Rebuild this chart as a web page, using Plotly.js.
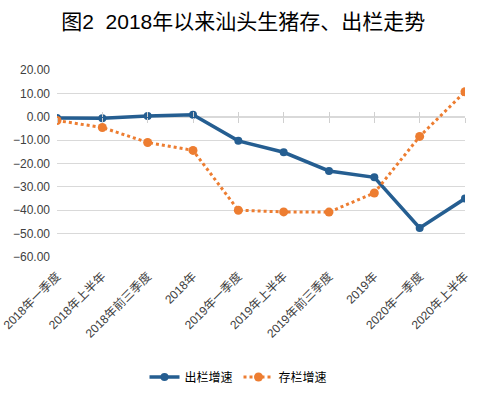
<!DOCTYPE html>
<html>
<head>
<meta charset="utf-8">
<script src="https://cdn.plot.ly/plotly-3.0.1.min.js"></script>
<style>html,body{margin:0;padding:0;background:#fff;}#chart{width:477px;height:395px;}</style>
</head>
<body>
<div id="chart"></div>
<script>
const categories = ["2018年一季度","2018年上半年","2018年前三季度","2018年","2019年一季度","2019年上半年","2019年前三季度","2019年","2020年一季度","2020年上半年"];
const chulanGrowth = [-0.5, -0.6, 0.3, 0.9, -10.3, -15.2, -23.2, -25.9, -47.6, -35.0];
const cunlanGrowth = [-1.6, -4.6, -11.0, -14.4, -40.0, -40.7, -40.8, -32.6, -8.4, 10.7];
const seriesNames = ["出栏增速", "存栏增速"];
const yTicks = [20, 10, 0, -10, -20, -30, -40, -50, -60];

const FONT = 'Liberation Sans, "Noto Sans CJK SC", sans-serif';
const idx = categories.map((c, i) => i);
const blanks = categories.map(() => null);

const traces = [
  {
    x: idx, y: chulanGrowth, name: seriesNames[0], type: 'scatter', mode: 'lines+markers',
    line: {color: '#255e91', width: 3.5},
    marker: {color: '#255e91', size: 8, symbol: 'circle'}
  },
  {
    x: idx, y: cunlanGrowth, name: seriesNames[1], type: 'scatter', mode: 'lines+markers',
    line: {color: '#ed7d31', width: 3, dash: 'dot'},
    marker: {color: '#ed7d31', size: 9, symbol: 'circle'}
  },
  // helper traces (no visible points) so the tick-mark axes at the zero line are drawn
  {x: idx, y: blanks, xaxis: 'x2', type: 'scatter', mode: 'markers', showlegend: false, hoverinfo: 'skip'},
  {x: idx, y: blanks, xaxis: 'x3', type: 'scatter', mode: 'markers', showlegend: false, hoverinfo: 'skip'}
];

const tickAxisCommon = {
  overlaying: 'x', anchor: 'free', position: 0.75, type: 'linear',
  range: [0, categories.length - 1], tickvals: idx, showticklabels: false,
  showgrid: false, zeroline: false, ticklen: 5, tickwidth: 1, tickcolor: '#d0d0d0',
  showline: false
};

const layout = {
  width: 477, height: 395,
  margin: {l: 57, r: 12, t: 70, b: 138},
  paper_bgcolor: '#fff', plot_bgcolor: '#fff',
  font: {family: FONT, color: '#404040', size: 12},
  title: {
    text: '图2  2018年以来汕头生猪存、出栏走势',
    font: {family: FONT, size: 21, color: '#000'},
    xref: 'container', x: 0.51, xanchor: 'center',
    yref: 'container', y: 1 - 22/395, yanchor: 'middle'
  },
  xaxis: {
    type: 'linear', range: [0, categories.length - 1],
    tickvals: idx, ticktext: categories, tickangle: -45,
    showgrid: false, zeroline: false, showline: false, ticks: '',
    tickfont: {family: FONT, size: 12, color: '#404040'},
    ticklabelstandoff: 9, ticklabeloverflow: 'allow'
  },
  xaxis2: Object.assign({}, tickAxisCommon, {ticks: 'outside'}),
  xaxis3: Object.assign({}, tickAxisCommon, {ticks: 'inside'}),
  yaxis: {
    range: [-60, 20], tickvals: yTicks, tickformat: '.2f',
    showgrid: true, gridcolor: '#d9d9d9', gridwidth: 1,
    zeroline: true, zerolinecolor: '#d9d9d9', zerolinewidth: 1.5,
    showline: false, ticks: '',
    tickfont: {family: FONT, size: 12, color: '#404040'},
    ticklabelstandoff: 6
  },
  showlegend: true,
  legend: {
    orientation: 'h', xref: 'container', yref: 'container',
    x: 0.5, xanchor: 'center', y: (395 - 377) / 395, yanchor: 'middle',
    font: {family: FONT, size: 12, color: '#000'},
    itemwidth: 30, tracegroupgap: 0, entrywidth: 49, entrywidthmode: 'pixels'
  }
};

Plotly.newPlot('chart', traces, layout, {displayModeBar: false, staticPlot: true});
</script>
</body>
</html>
